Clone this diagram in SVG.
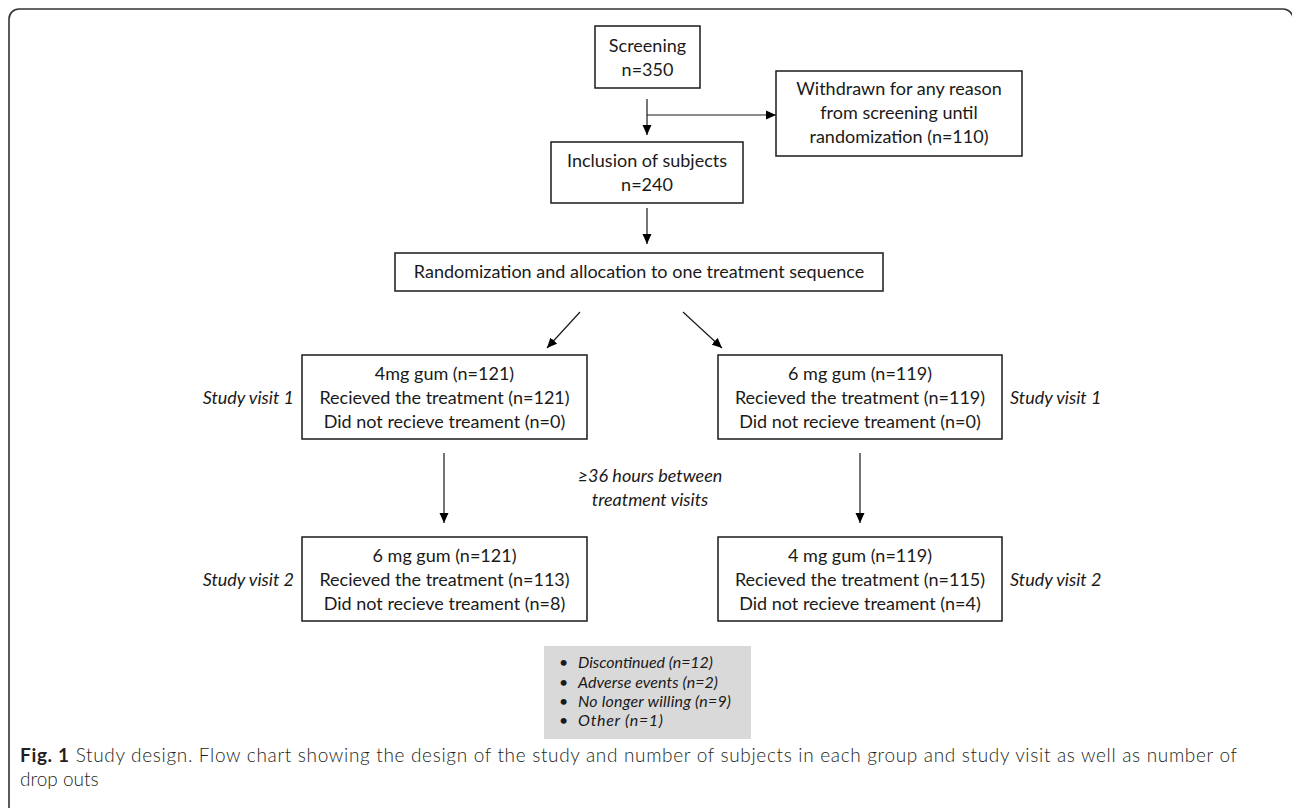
<svg xmlns="http://www.w3.org/2000/svg" width="1292" height="808" viewBox="0 0 1292 808">
<defs>
<marker id="ah" viewBox="0 0 10 10" refX="10" refY="5" markerWidth="10" markerHeight="10" markerUnits="userSpaceOnUse" orient="auto">
<path d="M0,0.5 L10,5 L0,9.5 z" fill="#000"/>
</marker>
<style>
.box{fill:#fff;stroke:#1a1a1a;stroke-width:1.5}
.t{font-family:Lato,"Liberation Sans",sans-serif;font-size:18px;fill:#1a1a1a;text-anchor:middle}
.it{font-family:Lato,"Liberation Sans",sans-serif;font-size:18px;font-style:italic;fill:#1a1a1a}
.sm{font-family:Lato,"Liberation Sans",sans-serif;font-size:16px;font-style:italic;fill:#1a1a1a}
.cap{font-family:Lato,"Liberation Sans",sans-serif;font-size:19px;font-weight:300;fill:#231f20}
.c{stroke:#1a1a1a;stroke-width:1.2;fill:none;marker-end:url(#ah)}
</style>
</defs>
<rect width="1292" height="808" fill="#fff"/>
<rect x="9" y="9" width="1284" height="900" rx="10" fill="none" stroke="#333" stroke-width="1.6"/>

<g id="connectors">
<line class="c" x1="647" y1="99" x2="647" y2="135"/>
<line class="c" x1="647" y1="115" x2="776" y2="115"/>
<line class="c" x1="647" y1="208" x2="647" y2="244"/>
<line class="c" x1="580" y1="312" x2="547" y2="348"/>
<line class="c" x1="683" y1="312" x2="722" y2="348"/>
<line class="c" x1="444" y1="453" x2="444" y2="523"/>
<line class="c" x1="860" y1="453" x2="860" y2="523"/>
</g>

<g id="screening">
<rect class="box" x="595" y="26" width="105" height="62"/>
<text class="t" x="647.5" y="52">Screening</text>
<text class="t" x="647.5" y="76">n=350</text>
</g>

<g id="withdrawn">
<rect class="box" x="776" y="71" width="246" height="85"/>
<text class="t" x="899" y="95">Withdrawn for any reason</text>
<text class="t" x="899" y="119">from screening until</text>
<text class="t" x="899" y="143">randomization (n=110)</text>
</g>

<g id="inclusion">
<rect class="box" x="551" y="142" width="192" height="61"/>
<text class="t" x="647" y="167">Inclusion of subjects</text>
<text class="t" x="647" y="191">n=240</text>
</g>

<g id="randomization">
<rect class="box" x="395" y="253" width="488" height="38"/>
<text class="t" x="639" y="278">Randomization and allocation to one treatment sequence</text>
</g>

<g id="left-visit1">
<rect class="box" x="302" y="355" width="285" height="84"/>
<text class="t" x="444.5" y="380">4mg gum (n=121)</text>
<text class="t" x="444.5" y="404">Recieved the treatment (n=121)</text>
<text class="t" x="444.5" y="428">Did not recieve treament (n=0)</text>
<text class="it" x="294" y="404" text-anchor="end">Study visit 1</text>
</g>

<g id="right-visit1">
<rect class="box" x="718" y="355" width="284" height="84"/>
<text class="t" x="860" y="380">6 mg gum (n=119)</text>
<text class="t" x="860" y="404">Recieved the treatment (n=119)</text>
<text class="t" x="860" y="428">Did not recieve treament (n=0)</text>
<text class="it" x="1010" y="404">Study visit 1</text>
</g>

<g id="interval-label">
<text class="it" x="650" y="482" text-anchor="middle">≥36 hours between</text>
<text class="it" x="650" y="506" text-anchor="middle">treatment visits</text>
</g>

<g id="left-visit2">
<rect class="box" x="302" y="537" width="285" height="84"/>
<text class="t" x="444.5" y="562">6 mg gum (n=121)</text>
<text class="t" x="444.5" y="586">Recieved the treatment (n=113)</text>
<text class="t" x="444.5" y="610">Did not recieve treament (n=8)</text>
<text class="it" x="294" y="586" text-anchor="end">Study visit 2</text>
</g>

<g id="right-visit2">
<rect class="box" x="718" y="537" width="284" height="84"/>
<text class="t" x="860" y="562">4 mg gum (n=119)</text>
<text class="t" x="860" y="586">Recieved the treatment (n=115)</text>
<text class="t" x="860" y="610">Did not recieve treament (n=4)</text>
<text class="it" x="1010" y="586">Study visit 2</text>
</g>

<g id="dropouts">
<rect x="544" y="646" width="207" height="93" fill="#d9d9d9"/>
<text class="sm" x="559" y="668">•</text><text class="sm" x="578" y="668" textLength="135">Discontinued (n=12)</text>
<text class="sm" x="559" y="688">•</text><text class="sm" x="578" y="688" textLength="140">Adverse events (n=2)</text>
<text class="sm" x="559" y="707">•</text><text class="sm" x="578" y="707" textLength="153">No longer willing (n=9)</text>
<text class="sm" x="559" y="726">•</text><text class="sm" x="578" y="726" textLength="85">Other (n=1)</text>
</g>

<g id="caption">
<text class="cap" x="20" y="762" textLength="1217"><tspan font-weight="bold">Fig. 1</tspan> Study design. Flow chart showing the design of the study and number of subjects in each group and study visit as well as number of</text>
<text class="cap" x="20" y="786">drop outs</text>
</g>
</svg>
